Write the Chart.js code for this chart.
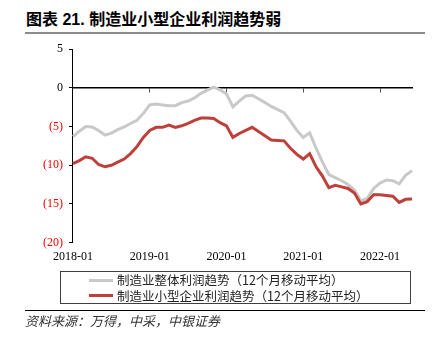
<!DOCTYPE html>
<html lang="zh-CN">
<head>
<meta charset="utf-8">
<title>制造业小型企业利润趋势弱</title>
<script src="https://cdn.jsdelivr.net/npm/chart.js@4.4.1/dist/chart.umd.min.js"></script>
<style>
  html, body { margin: 0; padding: 0; background: #fff; }
  .page { position: relative; width: 435px; height: 341px; overflow: hidden; font-family: "Noto Sans CJK SC", sans-serif; }
  .title { position: absolute; left: 26px; top: 10px; font: bold 16px/20px "Liberation Sans", "Noto Sans CJK SC", sans-serif; color: #000; white-space: nowrap; }
  .rule-top { position: absolute; left: 25px; top: 32px; width: 400px; height: 2px; background: #8c8c8c; }
  .plot { position: absolute; left: 0; top: 36px; width: 435px; height: 235px; }
  .legend { position: absolute; left: 60px; top: 271px; width: 349px; height: 31px; border: 1px solid #404040; }
  .legend-item { position: absolute; left: 28px; display: flex; align-items: center; height: 14px; font-size: 12.5px; line-height: 14px; color: #222; white-space: nowrap; }
  .legend-swatch { width: 24px; height: 3px; margin-right: 4px; }
  .rule-bottom { position: absolute; left: 25px; top: 309.5px; width: 400px; height: 1px; background: #000; }
  .source { position: absolute; left: 25px; top: 312px; font-size: 13px; line-height: 18px; font-style: italic; color: #333; white-space: nowrap; }
</style>
</head>
<body>
<div class="page">
  <div class="title">图表 21. 制造业小型企业利润趋势弱</div>
  <div class="rule-top"></div>
  <div class="plot"><canvas id="profitChart"></canvas></div>
  <div class="legend" id="profitLegend"></div>
  <div class="rule-bottom"></div>
  <div class="source">资料来源：万得，中采，中银证券</div>
</div>
<script>
// 2018-01 .. 2022-06, 12-month moving averages (%)
const months = [
  '2018-01','2018-02','2018-03','2018-04','2018-05','2018-06','2018-07','2018-08','2018-09','2018-10','2018-11','2018-12',
  '2019-01','2019-02','2019-03','2019-04','2019-05','2019-06','2019-07','2019-08','2019-09','2019-10','2019-11','2019-12',
  '2020-01','2020-02','2020-03','2020-04','2020-05','2020-06','2020-07','2020-08','2020-09','2020-10','2020-11','2020-12',
  '2021-01','2021-02','2021-03','2021-04','2021-05','2021-06','2021-07','2021-08','2021-09','2021-10','2021-11','2021-12',
  '2022-01','2022-02','2022-03','2022-04','2022-05','2022-06'
];
const yearTicks = ['2018-01', '2019-01', '2020-01', '2021-01', '2022-01'];

const overallProfit = [
  -6.3, -5.6, -5.0, -5.05, -5.5, -6.1, -5.85, -5.4, -5.05, -4.6, -4.2, -3.3,
  -2.2, -2.1, -2.2, -2.3, -2.3, -1.9, -1.7, -1.3, -0.7, -0.3, 0.1, -0.25,
  -0.8, -2.45, -1.7, -1.05, -0.95, -1.4, -1.9, -2.4, -2.8, -3.2, -4.3, -5.5,
  -6.4, -5.8, -7.8, -9.6, -11.2, -11.6, -12.0, -12.5, -13.2, -14.6, -14.3, -13.0,
  -12.3, -11.9, -12.0, -12.4, -11.3, -10.7
];
const smallFirmProfit = [
  -9.8, -9.4, -8.9, -9.1, -9.9, -10.2, -10.0, -9.6, -9.2, -8.5, -7.6, -6.4,
  -5.5, -5.1, -5.1, -4.8, -5.1, -4.9, -4.6, -4.2, -3.9, -3.9, -3.95, -4.5,
  -4.9, -6.4, -5.9, -5.5, -5.1, -5.65, -6.2, -6.75, -6.8, -6.85, -7.8, -8.6,
  -9.2, -8.5, -10.2, -11.4, -12.9, -12.6, -12.8, -13.0, -13.6, -15.0, -14.7, -13.8,
  -13.8, -13.9, -14.0, -14.8, -14.4, -14.35
];

const GREY = '#c9c9c9';
const RED = '#bf3f3a';

Chart.defaults.font.family = '"Liberation Serif", "Times New Roman", serif';
Chart.defaults.font.size = 12;
Chart.defaults.color = '#000';

function buildLegend(chart) {
  const box = document.getElementById('profitLegend');
  box.innerHTML = '';
  chart.data.datasets.forEach(function (ds, i) {
    const item = document.createElement('div');
    item.className = 'legend-item';
    item.style.top = (1 + i * 15.5) + 'px';
    const swatch = document.createElement('span');
    swatch.className = 'legend-swatch';
    swatch.style.background = ds.borderColor;
    const text = document.createElement('span');
    text.textContent = ds.label;
    item.appendChild(swatch);
    item.appendChild(text);
    box.appendChild(item);
  });
}

const chart = new Chart(document.getElementById('profitChart'), {
  type: 'line',
  data: {
    labels: months,
    datasets: [
      {
        label: '制造业整体利润趋势（12个月移动平均）',
        data: overallProfit,
        borderColor: GREY,
        borderWidth: 3,
        pointRadius: 0,
        tension: 0,
        order: 2
      },
      {
        label: '制造业小型企业利润趋势（12个月移动平均）',
        data: smallFirmProfit,
        borderColor: RED,
        borderWidth: 3,
        pointRadius: 0,
        tension: 0,
        order: 1
      }
    ]
  },
  options: {
    responsive: true,
    maintainAspectRatio: false,
    animation: false,
    layout: { padding: { left: 37, right: 23, top: 7.5, bottom: 0 } },
    plugins: {
      legend: { display: false },
      tooltip: { enabled: false }
    },
    scales: {
      x: {
        border: { display: false },
        grid: { display: false, drawTicks: false },
        ticks: {
          autoSkip: false,
          maxRotation: 0,
          minRotation: 0,
          padding: 7,
          callback: function (v, i) {
            return yearTicks.indexOf(months[i]) >= 0 ? months[i] : null;
          }
        }
      },
      // zero line with year tick marks
      x2: {
        type: 'category',
        position: { y: 0 },
        border: { display: true, color: '#000', width: 1.5 },
        grid: {
          display: true,
          drawOnChartArea: false,
          drawTicks: true,
          tickLength: 4,
          tickWidth: 1,
          tickColor: function (ctx) {
            return yearTicks.indexOf(months[ctx.index]) >= 0 ? '#555' : 'rgba(0,0,0,0)';
          }
        },
        ticks: { display: false }
      },
      y: {
        min: -20,
        max: 5,
        border: { display: true, color: '#000', width: 1 },
        grid: { display: true, drawOnChartArea: false, drawTicks: true, tickLength: 4, tickColor: '#000' },
        ticks: {
          stepSize: 5,
          padding: 6,
          color: function (ctx) { return ctx.tick && ctx.tick.value < 0 ? '#ff0000' : '#000'; },
          callback: function (v) { return v < 0 ? '(' + (-v) + ')' : String(v); }
        }
      }
    }
  }
});

buildLegend(chart);
</script>
</body>
</html>
